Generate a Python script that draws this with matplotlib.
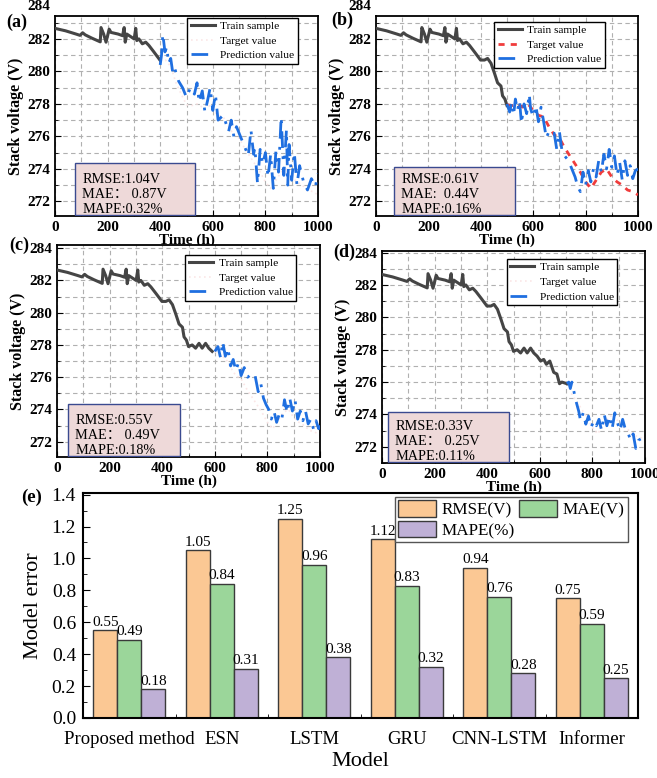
import matplotlib
matplotlib.use('Agg')
import matplotlib.pyplot as plt
import numpy as np
from matplotlib.ticker import MultipleLocator
from matplotlib.patches import Rectangle

plt.rcParams['font.family'] = ['Liberation Serif', 'DejaVu Serif']

# ---- data -------------------------------------------------------------
train_t = [0, 40, 80, 95, 105, 115, 140, 172, 175, 185, 194, 206, 213, 240, 257, 263, 267, 273,
           301, 307, 311, 319, 332, 345, 357, 376, 399, 414, 426, 439, 452, 464, 477, 483, 492,
           500, 514, 527, 540, 552, 565, 577, 590, 603, 615, 625, 638, 653, 665, 675, 684, 703]
train_v = [282.65, 282.5, 282.3, 282.22, 282.38, 282.25, 282.05, 281.82, 282.7, 282.3, 281.8, 282.6,
           282.4, 282.3, 282.2, 282.7, 281.8, 282.3, 282.0, 282.65, 281.9, 282.0, 281.7, 281.8,
           281.6, 281.2, 280.7, 280.7, 280.8, 280.5, 279.9, 279.3, 279.1, 278.5, 278.3, 277.9,
           278.0, 277.8, 278.1, 277.8, 278.1, 277.8, 277.6, 277.3, 277.4, 277.1, 277.3, 276.6,
           276.5, 275.9, 276.0, 275.9]
train_end = [400, 500, 600, 703]

# target value (actual test data)
target_t = [400, 420, 440, 460, 480, 500, 520, 540, 560, 580, 600, 620, 640, 660, 680, 700, 720,
            740, 760, 780, 800, 820, 840, 860, 880, 900, 920, 940, 960, 980, 1000]
target_v = [280.7, 280.7, 280.3, 279.3, 278.6, 277.95, 277.9, 278.0, 277.8, 278.0, 277.6, 277.3,
            277.2, 276.6, 276.1, 275.9, 275.3, 274.8, 274.3, 273.8, 273.2, 272.8, 273.3, 273.8,
            274.0, 273.5, 273.2, 273.0, 272.7, 272.6, 272.4]

pred_a_t = [400, 405, 410, 418, 425, 432, 440, 448, 455, 470, 485, 500, 515, 530, 540, 548, 560,
            570, 580, 590, 600, 610, 620, 640, 660, 670, 680, 690, 700, 720, 735, 745, 755, 760,
            770, 780, 790, 800, 810, 820, 830, 840, 850, 860, 870, 880, 885, 890, 900, 910, 920,
            930, 945, 960, 975, 990, 1000]
pred_a_v = [280.4, 281.0, 282.3, 281.2, 281.5, 280.5, 280.8, 279.9, 280.2, 279.4, 279.0, 278.4,
            279.0, 278.6, 279.3, 278.1, 278.8, 277.5, 278.2, 279.0, 277.6, 278.6, 277.0, 277.3,
            276.3, 277.0, 276.0, 276.6, 276.2, 275.4, 274.8, 276.4, 274.9, 275.3, 273.1, 275.2,
            274.3, 275.0, 273.5, 274.9, 272.8, 275.1, 273.8, 277.2, 273.6, 276.4, 273.0, 275.5,
            273.3, 275.0, 273.0, 274.2, 273.2, 272.7, 273.4, 272.9, 273.7]

pred_b_t = [500, 510, 518, 525, 532, 540, 548, 555, 565, 575, 585, 590, 600, 610, 620, 630, 640,
            650, 660, 670, 680, 690, 700, 710, 720, 730, 740, 750, 760, 770, 780, 790, 800, 810,
            820, 830, 840, 850, 860, 870, 880, 890, 900, 910, 920, 930, 940, 950, 960, 970, 980,
            990, 1000]
pred_b_v = [278.0, 277.5, 278.1, 277.3, 278.3, 277.6, 278.2, 276.8, 278.0, 277.4, 278.6, 277.7,
            277.2, 277.9, 276.9, 277.8, 276.9, 275.9, 276.3, 276.1, 276.2, 275.2, 276.3, 275.1,
            274.8, 274.6, 274.3, 273.9, 273.5, 272.9, 272.6, 273.8, 273.0, 273.9, 273.2, 274.0,
            273.5, 274.5, 273.8, 274.9, 274.0, 275.2, 274.1, 274.8, 273.6, 274.4, 273.3, 274.5,
            273.6, 274.2, 273.4, 273.9, 274.0]

pred_c_t = [600, 612, 622, 630, 640, 650, 660, 670, 680, 690, 700, 712, 725, 740, 752, 765, 775,
            785, 795, 805, 815, 825, 835, 845, 855, 865, 875, 885, 895, 905, 915, 925, 935, 945,
            955, 965, 975, 985, 995, 1000]
pred_c_v = [277.6, 277.9, 277.2, 278.2, 277.3, 277.8, 276.7, 277.1, 276.4, 276.9, 276.1, 276.6,
            276.0, 276.2, 276.2, 275.1, 275.6, 274.7, 274.3, 274.0, 273.4, 273.9, 273.2, 273.7,
            273.4, 274.6, 273.8, 274.7, 273.9, 274.6, 273.4, 273.9, 273.3, 273.9, 273.1, 273.4,
            272.8, 273.3, 272.8, 273.0]

pred_d_t = [703, 710, 716, 722, 730, 738, 748, 755, 765, 775, 785, 795, 805, 815, 825, 835, 845,
            855, 865, 875, 885, 895, 905, 915, 925, 935, 945, 955, 965, 975, 985, 995, 1000]
pred_d_v = [275.9, 276.0, 275.6, 276.0, 275.4, 274.8, 274.2, 273.6, 274.1, 273.4, 273.9, 273.2,
            273.6, 273.3, 273.7, 273.0, 274.0, 273.3, 273.9, 273.1, 274.1, 273.5, 273.0, 273.7,
            273.1, 272.9, 272.4, 272.8, 271.9, 272.4, 272.5, 272.7, 272.5]

pred_t = [pred_a_t, pred_b_t, pred_c_t, pred_d_t]
pred_v = [pred_a_v, pred_b_v, pred_c_v, pred_d_v]
metrics = [('1.04V', '0.87V', '0.32%'), ('0.61V', '0.44V', '0.16%'),
           ('0.55V', '0.49V', '0.18%'), ('0.33V', '0.25V', '0.11%')]
panel_labels = ['(a)', '(b)', '(c)', '(d)']

models = ['Proposed method', 'ESN', 'LSTM', 'GRU', 'CNN-LSTM', 'Informer']
rmse = [0.55, 1.05, 1.25, 1.12, 0.94, 0.75]
mae = [0.49, 0.84, 0.96, 0.83, 0.76, 0.59]
mape = [0.18, 0.31, 0.38, 0.32, 0.28, 0.25]

# ---- figure -----------------------------------------------------------
W, H = 657.0, 778.0
fig = plt.figure(figsize=(6.57, 7.78), dpi=100)


def px_rect(l, t, r, b):
    return [l / W, 1 - b / H, (r - l) / W, (b - t) / H]


pos = [px_rect(55, 15.7, 318, 216), px_rect(376, 15.7, 638, 216),
       px_rect(57, 245, 320, 457), px_rect(382, 251, 645, 463)]
ylims = [(271.1, 283.43), (271.1, 283.43), (271.05, 284.2), (271.0, 284.1)]
# metric box: x0, x1, height (axes fraction)
boxes = [(0.076, 0.532, 0.26), (0.069, 0.53, 0.24), (0.042, 0.468, 0.245), (0.023, 0.483, 0.237)]
leg_anchor = [(0.924, 0.99), (0.874, 0.969), (0.909, 0.953), (0.894, 0.962)]
lab_xy = [(17, 22), (342, 20), (19, 245), (344, 252)]

train_t = np.array(train_t)
train_v = np.array(train_v)
target_t = np.array(target_t)
target_v = np.array(target_v)

for i in range(4):
    ax = fig.add_axes(pos[i])
    m = train_t <= train_end[i]
    ax.plot(train_t[m], train_v[m], color='#454545', lw=2.2, label='Train sample', zorder=3)
    mt = target_t >= train_end[i] - 1
    if i == 1:
        ax.plot(target_t[mt], target_v[mt], color='#f03c3c', lw=2, ls=(0, (2.2, 2.2)),
                label='Target value', zorder=3)
    else:
        ax.plot(target_t[mt], target_v[mt], color='#fbe6e6', lw=1.2, ls=(0, (1, 2)),
                label='Target value', zorder=2)
    ax.plot(pred_t[i], pred_v[i], color='#1f6fe0', lw=2, ls=(0, (6, 3, 1, 3)),
            label='Prediction value', zorder=4)

    ax.set_xlim(0, 1000)
    ax.set_ylim(*ylims[i])
    top_in = ylims[i][1] >= 284
    ax.set_yticks(np.arange(272, 285 if top_in else 283, 2))
    ax.set_xticks(np.arange(0, 1001, 200))
    ax.xaxis.set_minor_locator(MultipleLocator(100))
    ax.yaxis.set_minor_locator(MultipleLocator(1))
    ax.grid(True, which='both', color='#b0b0b0', ls=(0, (4, 3)), lw=0.8)
    ax.tick_params(which='both', direction='in', labelsize=11)
    ax.tick_params(which='major', length=4)
    ax.tick_params(which='minor', length=2)
    for lab in ax.get_xticklabels() + ax.get_yticklabels():
        lab.set_fontweight('bold')
    if not top_in:
        # top label sits just above the frame in the original
        ax.annotate('284', xy=(0, 284), xycoords=('axes fraction', 'data'), xytext=(-3.5, 0),
                    textcoords='offset points', ha='right', va='center', fontsize=11,
                    fontweight='bold', annotation_clip=False)
    for s in ax.spines.values():
        s.set_linewidth(1.3)
    ax.set_xlabel('Time (h)', fontsize=11, fontweight='bold', labelpad=0)
    ax.set_ylabel('Stack voltage (V)', fontsize=11.5, fontweight='bold', labelpad=2)

    leg = ax.legend(loc='upper right', fontsize=8.2, frameon=True, fancybox=False,
                    edgecolor='black', handlelength=2.1, borderpad=0.3, labelspacing=0.4,
                    handletextpad=0.5, bbox_to_anchor=leg_anchor[i], borderaxespad=0,
                    framealpha=1)
    leg.get_frame().set_linewidth(1.0)
    leg.set_zorder(6)

    x0, x1, h = boxes[i]
    ax.add_patch(Rectangle((x0, 0.003), x1 - x0, h, transform=ax.transAxes, facecolor='#eed9d9',
                           edgecolor='#3a4a90', lw=1.0, zorder=5))
    if i == 1:
        txt = 'RMSE:%s\nMAE:  %s\nMAPE:%s' % metrics[i]
    else:
        txt = 'RMSE:%s\nMAE\uff1a %s\nMAPE:%s' % metrics[i]
    ax.text(x0 + 0.027, 0.0, txt, transform=ax.transAxes, fontsize=10.3, va='bottom', ha='left',
            family=['Liberation Serif', 'Noto Sans CJK SC'], linespacing=1.2, zorder=6)
    fig.text(lab_xy[i][0] / W, 1 - lab_xy[i][1] / H, panel_labels[i], ha='center', va='center',
             fontsize=13, fontweight='bold')

# ---- bar chart --------------------------------------------------------
ax = fig.add_axes(px_rect(83, 493, 638, 718))
x = np.arange(len(models))
w = 0.26
cols = ['#fbc894', '#9bd69a', '#bfb0d6']
series = [rmse, mae, mape]
names = ['RMSE(V)', 'MAE(V)', 'MAPE(%)']
bars = []
for k in range(3):
    b = ax.bar(x + (k - 1) * w, series[k], w, color=cols[k], edgecolor='#3a3a3a', lw=1.0,
               label=names[k])
    bars.append(b)
    for xi, v in zip(x + (k - 1) * w, series[k]):
        ax.text(xi, v + 0.01, '%.2f' % v, ha='center', va='bottom', fontsize=11)
ax.set_xlim(-0.5, 5.5)
ax.set_ylim(0, 1.41)
ax.set_yticks(np.arange(0, 1.41, 0.2))
ax.set_yticklabels(['%.1f' % v for v in np.arange(0, 1.41, 0.2)])
ax.yaxis.set_minor_locator(MultipleLocator(0.1))
ax.set_xticks(x)
ax.set_xticklabels(models)
ax.set_xticks(np.arange(-0.5, 5.6, 1), minor=True)
ax.tick_params(axis='x', which='major', length=0, labelsize=13.5, pad=9)
ax.tick_params(axis='x', which='minor', direction='in', length=3)
ax.tick_params(axis='y', which='both', direction='in', labelsize=14, pad=5)
ax.tick_params(axis='y', which='major', length=5)
ax.tick_params(axis='y', which='minor', length=3)
for s in ax.spines.values():
    s.set_linewidth(1.5)
ax.set_xlabel('Model', fontsize=16, labelpad=3)
ax.set_ylabel('Model error', fontsize=16, labelpad=6)
leg = ax.legend([bars[0], bars[2], bars[1]], [names[0], names[2], names[1]],
                loc='upper right', ncol=2, fontsize=12.3, frameon=True, fancybox=False,
                edgecolor='#555555', handlelength=2.2, handleheight=1.1, columnspacing=0.25,
                handletextpad=0.35, borderpad=0.2, labelspacing=0.15,
                bbox_to_anchor=(0.982, 0.982), borderaxespad=0, framealpha=1)
leg.get_frame().set_linewidth(1.0)
fig.text(32 / W, 1 - 497 / H, '(e)', ha='center', va='center', fontsize=13.5, fontweight='bold')

fig.savefig('out.png', dpi=100)
